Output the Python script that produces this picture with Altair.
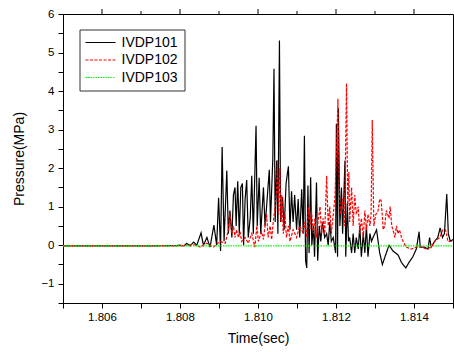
import altair as alt
import pandas as pd

series_names = ["IVDP101", "IVDP102", "IVDP103"]

black_t = [1.80500, 1.80700, 1.80790, 1.80800, 1.80810, 1.80817, 1.80826, 1.80835, 1.80843, 1.80854,
           1.80860, 1.80869, 1.80877, 1.80887, 1.80894, 1.80899, 1.80904, 1.80908, 1.80913, 1.80920,
           1.80924, 1.80928, 1.80933, 1.80937, 1.80941, 1.80944, 1.80948, 1.80952, 1.80956, 1.80960,
           1.80963, 1.80967, 1.80971, 1.80975, 1.80980, 1.80984, 1.80988, 1.80995, 1.80998, 1.81003,
           1.81007, 1.81014, 1.81018, 1.81022, 1.81029, 1.81032, 1.81038, 1.81041, 1.81044, 1.81048,
           1.81051, 1.81055, 1.81058, 1.81063, 1.81067, 1.81072, 1.81078, 1.81082, 1.81086, 1.81090,
           1.81094, 1.81099, 1.81103, 1.81107, 1.81112, 1.81116, 1.81119, 1.81122, 1.81125, 1.81128,
           1.81131, 1.81135, 1.81138, 1.81142, 1.81145, 1.81150, 1.81153, 1.81157, 1.81161, 1.81165,
           1.81171, 1.81176, 1.81180, 1.81184, 1.81188, 1.81193, 1.81199, 1.81201, 1.81204, 1.81206,
           1.81210, 1.81214, 1.81217, 1.81223, 1.81225, 1.81229, 1.81232, 1.81235, 1.81240, 1.81244,
           1.81248, 1.81252, 1.81257, 1.81261, 1.81265, 1.81270, 1.81274, 1.81278, 1.81282, 1.81287,
           1.81291, 1.81295, 1.81304, 1.81312, 1.81319, 1.81329, 1.81336, 1.81346, 1.81359, 1.81368,
           1.81379, 1.81387, 1.81397, 1.81406, 1.81413, 1.81416, 1.81427, 1.81436, 1.81440, 1.81444,
           1.81453, 1.81461, 1.81467, 1.81473, 1.81478, 1.81484, 1.81488, 1.81493, 1.81500]
black_p = [-0.02, -0.02, -0.01, 0.0, -0.02, 0.05, -0.02, 0.08, 0.0, 0.32,
           0.0, 0.2, -0.05, 0.52, 0.0, 1.23, -0.15, 2.55, 0.1, 1.94,
           0.3, 0.9, 0.2, 1.3, 1.5, 0.5, 1.66, 0.3, 1.5, 1.6,
           0.0, 1.2, 1.69, 0.2, 0.7, 1.8, 0.3, 3.1, 0.5, 1.75,
           0.3, 1.5, 0.5, 1.0, 1.96, 0.6, 2.25, 4.58, 0.6, 2.2,
           0.3, 5.31, 0.6, 1.25, 0.4, 1.6, 2.05, 0.4, 1.4, 0.6,
           1.3, 0.4, 1.2, 0.2, 1.45, 0.3, 2.84, -0.4, -0.59, 1.55,
           -0.2, 1.76, 0.0, 0.5, -0.3, 1.63, -0.4, 0.5, 0.1, 0.6,
           0.2, 0.3, 0.0, 0.6, 0.1, 0.2, -0.2, 3.15, -0.3, 3.56,
           0.5, 1.5, 0.3, 2.2, -0.3, 1.1, 0.1, 0.2, -0.2, 0.3,
           -0.2, 0.2, -0.1, 0.5, -0.3, 0.3, -0.2, 0.5, -0.3, 0.3,
           0.1, 0.2, 0.4, -0.2, -0.5, -0.2, 0.0, -0.15, -0.25, -0.45,
           -0.59, -0.45, -0.3, -0.1, 0.35, -0.05, -0.05, -0.1, 0.2, -0.05,
           0.1, 0.2, 0.45, 0.2, 0.3, 1.33, 0.3, 0.1, 0.15]

red_t = [1.80500, 1.80800, 1.80835, 1.80852, 1.80869, 1.80886, 1.80903, 1.80916, 1.80924, 1.80928,
         1.80933, 1.80937, 1.80941, 1.80945, 1.80950, 1.80954, 1.80958, 1.80967, 1.80975, 1.80984,
         1.80992, 1.80997, 1.81001, 1.81009, 1.81014, 1.81018, 1.81022, 1.81026, 1.81031, 1.81035,
         1.81039, 1.81044, 1.81048, 1.81050, 1.81053, 1.81056, 1.81059, 1.81061, 1.81065, 1.81069,
         1.81073, 1.81078, 1.81082, 1.81090, 1.81099, 1.81107, 1.81116, 1.81120, 1.81125, 1.81129,
         1.81133, 1.81137, 1.81142, 1.81146, 1.81150, 1.81154, 1.81159, 1.81163, 1.81167, 1.81171,
         1.81176, 1.81180, 1.81184, 1.81188, 1.81193, 1.81197, 1.81201, 1.81205, 1.81208, 1.81212,
         1.81217, 1.81222, 1.81227, 1.81230, 1.81233, 1.81235, 1.81240, 1.81244, 1.81248, 1.81252,
         1.81257, 1.81261, 1.81265, 1.81270, 1.81274, 1.81278, 1.81282, 1.81287, 1.81290, 1.81293,
         1.81297, 1.81302, 1.81308, 1.81312, 1.81316, 1.81321, 1.81325, 1.81329, 1.81336, 1.81339,
         1.81343, 1.81346, 1.81351, 1.81355, 1.81359, 1.81363, 1.81368, 1.81372, 1.81380, 1.81393,
         1.81406, 1.81419, 1.81432, 1.81444, 1.81453, 1.81466, 1.81474, 1.81481, 1.81487, 1.81500]
red_p = [-0.02, -0.02, 0.02, -0.05, 0.05, -0.05, 0.1, 0.05, 0.4, 0.85,
         0.3, 0.5, 0.2, 0.4, 0.2, 0.35, 0.1, 0.2, 0.05, 0.3,
         -0.05, 0.5, 0.1, 0.35, 0.15, 0.5, 0.8, 0.2, 0.5, 0.15,
         0.6, 1.0, 1.5, 2.2, 0.8, 2.0, 0.6, 1.3, 0.3, 0.8,
         0.2, 0.5, 0.1, 0.4, 0.2, 0.5, 0.3, 0.6, 0.2, 1.0,
         0.4, 0.9, 0.3, 0.7, 0.2, 0.6, 1.0, 0.3, 0.7, 0.3,
         1.8, 0.5, 1.0, 0.3, 0.8, 1.2, 2.3, 3.8, 1.5, 0.8,
         1.2, 0.5, 4.2, 1.0, 1.9, 0.6, 1.5, 0.5, 1.3, 0.8,
         1.0, 0.3, 0.7, 0.2, 0.9, 0.4, 0.8, 0.5, 0.8, 3.25,
         0.5, 0.8, 0.9, 1.2, 1.15, 0.4, 0.5, 0.9, 0.7, 1.0,
         0.5, 0.4, 0.2, 0.5, 0.3, 0.4, 0.2, 0.1, -0.05, -0.1,
         -0.05, -0.05, -0.1, -0.05, 0.1, 0.2, 0.4, 0.4, 0.1, 0.1]

green_t = [1.80500, 1.81000, 1.81500]
green_p = [-0.02, -0.02, -0.02]

x_ticks = [1.805, 1.806, 1.807, 1.808, 1.809, 1.810, 1.811, 1.812, 1.813, 1.814, 1.815]
x_major_top = [1.806, 1.808, 1.810, 1.812, 1.814]
x_minor_top = [1.807, 1.809, 1.811, 1.813]
y_ticks = [-1.5, -1.0, -0.5, 0.0, 0.5, 1.0, 1.5, 2.0, 2.5, 3.0, 3.5, 4.0, 4.5, 5.0, 5.5, 6.0]

rows = []
for name, ts, ps in zip(series_names, [black_t, red_t, green_t], [black_p, red_p, green_p]):
    for i, (t, p) in enumerate(zip(ts, ps)):
        rows.append({"series": name, "t": t, "p": p, "i": i})
df = pd.DataFrame(rows)
major_df = pd.DataFrame({"t": x_major_top})
minor_df = pd.DataFrame({"t": x_minor_top})

FONT = "Liberation Sans"

xscale = alt.Scale(domain=[1.805, 1.815], nice=False, zero=False)
yscale = alt.Scale(domain=[-1.5, 6], nice=False, zero=False)

lines = alt.Chart(df).mark_line(strokeWidth=1.2).encode(
    x=alt.X("t:Q", scale=xscale, title="Time(sec)",
            axis=alt.Axis(values=x_ticks, format=".3f",
                          labelExpr="(round(datum.value*1000) % 2 == 0 && datum.value > 1.8055 && datum.value < 1.8145) ? format(datum.value, '.3f') : ''",
                          tickSize=5, labelPadding=3, titlePadding=9, labelOverlap=False)),
    y=alt.Y("p:Q", scale=yscale, title="Pressure(MPa)",
            axis=alt.Axis(values=y_ticks, format=".1f",
                          labelExpr="(abs(datum.value - round(datum.value)) < 0.01) ? format(round(datum.value), 'd') : ''",
                          tickSize=5, labelPadding=4, titlePadding=14, labelOverlap=False)),
    color=alt.Color("series:N", scale=alt.Scale(domain=series_names, range=["#000000", "#ff0000", "#00ff00"]),
                    legend=alt.Legend(title=None, orient="none", legendX=16.5, legendY=15.5)),
    strokeDash=alt.StrokeDash("series:N", scale=alt.Scale(domain=series_names, range=[[1, 0], [3, 1.5], [1.5, 1]]),
                              legend=alt.Legend(title=None, orient="none", legendX=16.5, legendY=15.5)),
    order="i:Q",
    detail="series:N",
)

top_major = alt.Chart(major_df).mark_rule(color="black", strokeWidth=1).encode(
    x=alt.X("t:Q", scale=xscale, axis=None),
    y=alt.value(-5),
    y2=alt.value(0),
)
top_minor = alt.Chart(minor_df).mark_rule(color="black", strokeWidth=1).encode(
    x=alt.X("t:Q", scale=xscale, axis=None),
    y=alt.value(-3),
    y2=alt.value(0),
)

chart = alt.layer(lines, top_major, top_minor).resolve_axis(x="independent").properties(
    width=390, height=289,
    autosize=alt.AutoSizeParams(type="none"),
    padding={"left": 63, "top": 14, "right": 1, "bottom": 49},
).configure_view(stroke="black", strokeWidth=1).configure_axis(
    grid=False, domainColor="black", tickColor="black", labelColor="black", titleColor="black",
    labelFont=FONT, titleFont=FONT, labelFontSize=11.5, titleFontSize=14, titleFontWeight="normal",
    domainWidth=1, tickWidth=1,
).configure_legend(
    labelFont=FONT, labelFontSize=14, labelColor="black", symbolType="M-3,0H3", symbolSize=100,
    symbolStrokeWidth=1.2, strokeColor="#333333", fillColor="white", padding=6, rowPadding=3.5,
    labelOffset=14, symbolOffset=8,
)

chart.save("out.html", embed_options={"renderer": "svg", "actions": False})
